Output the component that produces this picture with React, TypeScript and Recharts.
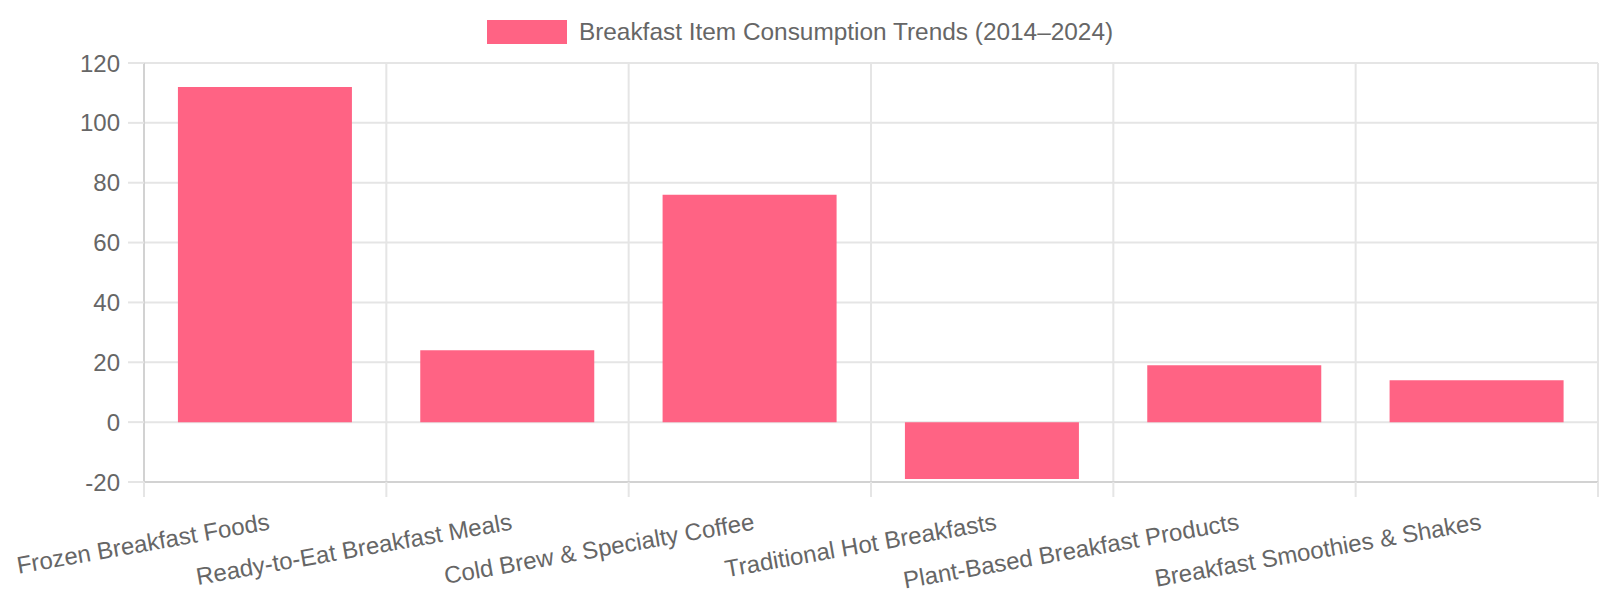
import React from 'react';
import { BarChart, Bar, XAxis, YAxis, CartesianGrid, Legend } from 'recharts';

const categories = [
  'Frozen Breakfast Foods',
  'Ready-to-Eat Breakfast Meals',
  'Cold Brew & Specialty Coffee',
  'Traditional Hot Breakfasts',
  'Plant-Based Breakfast Products',
  'Breakfast Smoothies & Shakes',
];
const changeValues = [112, 24, 76, -19, 19, 14];
const yTicks = [-20, 0, 20, 40, 60, 80, 100, 120];
const seriesLabel = 'Breakfast Item Consumption Trends (2014–2024)';

const data = categories.map((name, i) => ({ name, value: changeValues[i] }));

const W = 1600;
const H = 600;
const Y_AXIS_W = 144;
const MARGIN_RIGHT = 2;
const PLOT_W = W - Y_AXIS_W - MARGIN_RIGHT;
const BAND = PLOT_W / categories.length;
const FONT = '"Liberation Sans", Arial, Helvetica, sans-serif';
const GRID = '#e5e5e5';
const AXIS = '#d2d2d2';
const TEXT = '#666666';
const PINK = '#ff6384';

const XTick = (props: any) => {
  const { x, y, payload, index } = props;
  const left = x - BAND / 2;
  const ax = x + 4;
  const ay = y + 39;
  return (
    <g>
      <line x1={left} y1={y} x2={left} y2={y + 15} stroke={GRID} strokeWidth={2} />
      {index === categories.length - 1 && (
        <line x1={x + BAND / 2} y1={y} x2={x + BAND / 2} y2={y + 15} stroke={GRID} strokeWidth={2} />
      )}
      <text
        x={ax}
        y={ay}
        textAnchor="end"
        dominantBaseline="central"
        transform={`rotate(-10, ${ax}, ${ay})`}
        fill={TEXT}
        fontSize={24}
        fontFamily={FONT}
      >
        {payload.value}
      </text>
    </g>
  );
};

const LegendContent = () => (
  <div
    style={{
      height: 63,
      width: W,
      display: 'flex',
      justifyContent: 'center',
      alignItems: 'flex-start',
      fontFamily: FONT,
    }}
  >
    <div style={{ display: 'flex', alignItems: 'center', marginTop: 20, height: 24 }}>
      <div style={{ width: 80, height: 24, background: PINK }} />
      <span style={{ marginLeft: 12, fontSize: 24.4, lineHeight: '24px', color: TEXT, whiteSpace: 'nowrap' }}>
        {seriesLabel}
      </span>
    </div>
  </div>
);

export default function App() {
  return (
    <div style={{ position: 'absolute', left: 0, top: 0, width: W, height: H, background: '#fff' }}>
      <BarChart
        width={W}
        height={H}
        data={data}
        margin={{ top: 0, right: MARGIN_RIGHT, bottom: 0, left: 0 }}
        barCategoryGap="14%"
      >
        <Legend
          verticalAlign="top"
          align="center"
          content={<LegendContent />}
          wrapperStyle={{ top: 0, left: 0, width: W }}
        />
        <CartesianGrid
          stroke={GRID}
          strokeWidth={2}
          verticalCoordinatesGenerator={({ offset }: any) =>
            Array.from({ length: categories.length + 1 }, (_, i) => offset.left + (i * offset.width) / categories.length)
          }
        />
        <XAxis
          dataKey="name"
          type="category"
          interval={0}
          height={118}
          tickSize={0}
          tickMargin={0}
          tickLine={false}
          axisLine={{ stroke: AXIS, strokeWidth: 2 }}
          tick={<XTick />}
        />
        <YAxis
          type="number"
          domain={[-20, 120]}
          ticks={yTicks}
          width={Y_AXIS_W}
          tickSize={16}
          tickMargin={8}
          tickLine={{ stroke: GRID, strokeWidth: 2 }}
          axisLine={{ stroke: AXIS, strokeWidth: 2 }}
          tick={{ fill: TEXT, fontSize: 24, fontFamily: FONT }}
          interval={0}
        />
        <Bar dataKey="value" name={seriesLabel} fill={PINK} isAnimationActive={false} />
      </BarChart>
    </div>
  );
}
